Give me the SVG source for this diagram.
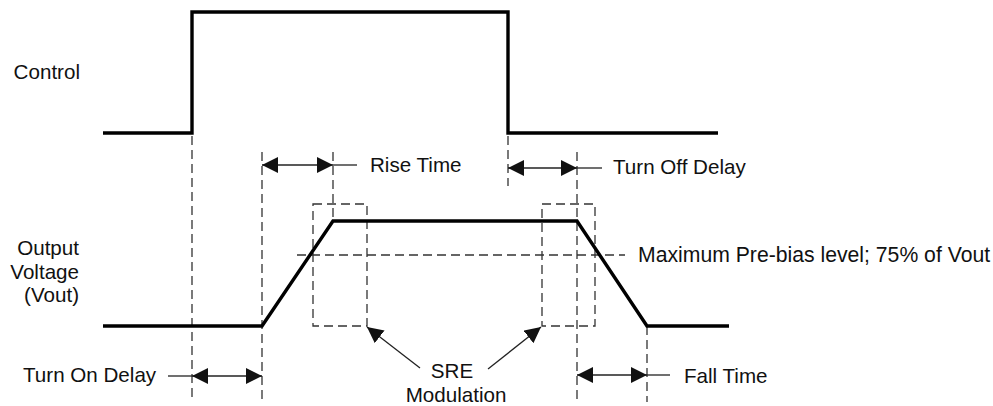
<svg xmlns="http://www.w3.org/2000/svg" width="993" height="406" viewBox="0 0 993 406">
<style>
.sig{fill:none;stroke:#000;stroke-width:3.4;stroke-linejoin:miter}
.dash{fill:none;stroke:#333;stroke-width:1.3;stroke-dasharray:9,5}
.thin{fill:none;stroke:#222;stroke-width:1.3}
.lbl{font-family:"Liberation Sans",Arial,sans-serif;font-size:20.6px;fill:#111}
.ah{fill:#111}
</style>
<defs>
<marker id="ae" markerWidth="16" markerHeight="16" refX="16" refY="8" orient="auto" markerUnits="userSpaceOnUse">
<path d="M0,0 L16,8 L0,16 Z" class="ah"/>
</marker>
<marker id="as" markerWidth="16" markerHeight="16" refX="0" refY="8" orient="auto" markerUnits="userSpaceOnUse">
<path d="M16,0 L0,8 L16,16 Z" class="ah"/>
</marker>
</defs>
<rect width="993" height="406" fill="#fff"/>
<g id="guides">
<line class="dash" x1="192" y1="136" x2="192" y2="402"/>
<line class="dash" x1="262" y1="152" x2="262" y2="402"/>
<line class="dash" x1="333" y1="152" x2="333" y2="221"/>
<line class="dash" x1="508" y1="136" x2="508" y2="186"/>
<line class="dash" x1="577" y1="152" x2="577" y2="402"/>
<line class="dash" x1="647" y1="326" x2="647" y2="402"/>
<line class="dash" x1="297" y1="255" x2="625" y2="255"/>
</g>
<g id="sre-boxes">
<rect class="dash" x="313" y="204" width="54" height="122"/>
<rect class="dash" x="542" y="204" width="53" height="122"/>
</g>
<g id="control-signal">
<polyline class="sig" points="103,133 192,133 192,12 508,12 508,133 718,133"/>
<text class="lbl" x="80" y="79" text-anchor="end">Control</text>
</g>
<g id="vout-signal">
<polyline class="sig" points="103,326 262,326 333,221 577,221 647,326 729,326"/>
<text class="lbl" x="79" y="255" text-anchor="end">Output</text>
<text class="lbl" x="79" y="279" text-anchor="end">Voltage</text>
<text class="lbl" x="79" y="302" text-anchor="end">(Vout)</text>
</g>
<g id="connectors">
<line class="thin" x1="262" y1="165" x2="333" y2="165" marker-start="url(#as)" marker-end="url(#ae)"/>
<line class="thin" x1="333" y1="165" x2="357" y2="165"/>
<line class="thin" x1="508" y1="168" x2="577" y2="168" marker-start="url(#as)" marker-end="url(#ae)"/>
<line class="thin" x1="577" y1="168" x2="602" y2="168"/>
<line class="thin" x1="168" y1="376" x2="192" y2="376"/>
<line class="thin" x1="192" y1="376" x2="262" y2="376" marker-start="url(#as)" marker-end="url(#ae)"/>
<line class="thin" x1="577" y1="375" x2="647" y2="375" marker-start="url(#as)" marker-end="url(#ae)"/>
<line class="thin" x1="647" y1="375" x2="670" y2="375"/>
<line class="thin" x1="420" y1="368" x2="367" y2="327" marker-end="url(#ae)"/>
<line class="thin" x1="488" y1="369" x2="541" y2="327" marker-end="url(#ae)"/>
</g>
<g id="labels">
<text class="lbl" x="370" y="172">Rise Time</text>
<text class="lbl" x="613" y="174">Turn Off Delay</text>
<text class="lbl" x="638" y="262" style="font-size:21.2px">Maximum Pre-bias level; 75% of Vout</text>
<text class="lbl" x="23" y="382">Turn On Delay</text>
<text class="lbl" x="684" y="383">Fall Time</text>
<text class="lbl" x="452" y="378" text-anchor="middle">SRE</text>
<text class="lbl" x="456" y="402" text-anchor="middle">Modulation</text>
</g>
</svg>
